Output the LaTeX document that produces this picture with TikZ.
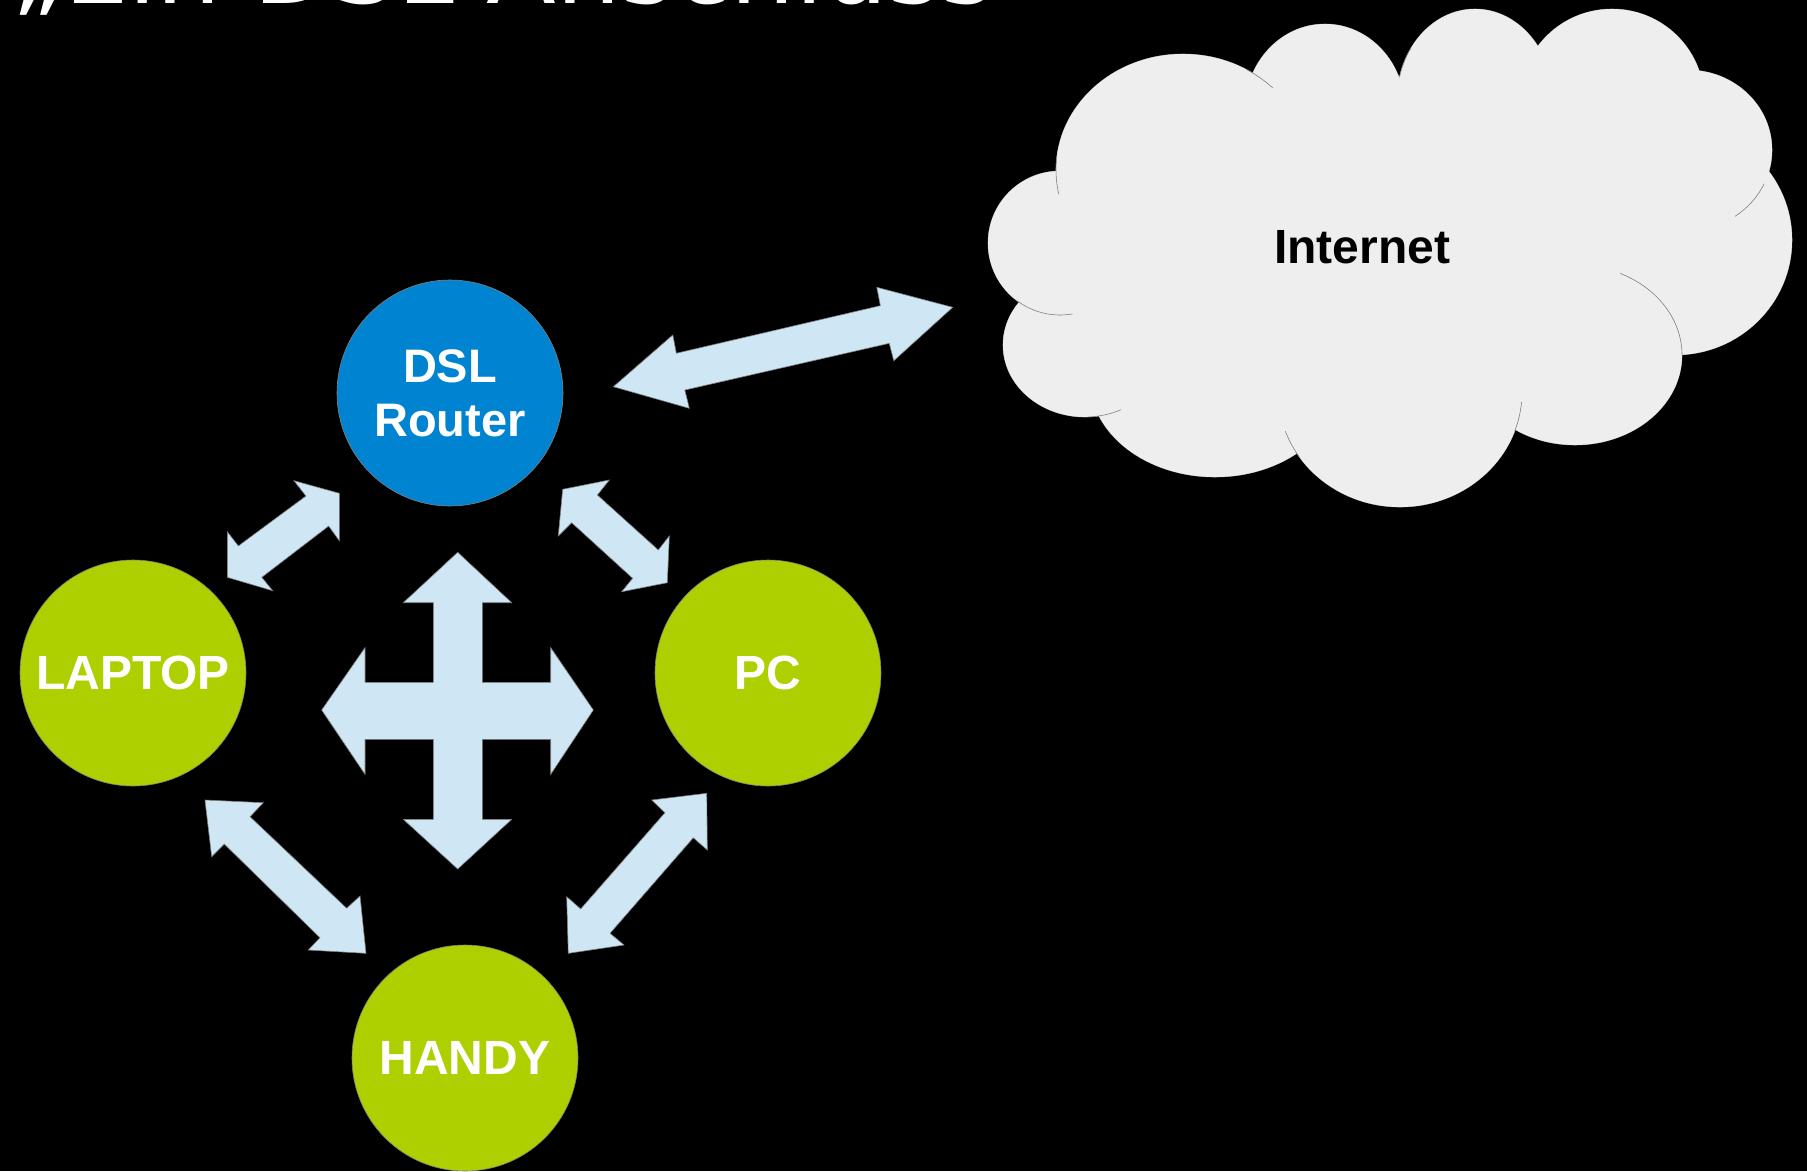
\documentclass[tikz,border=0pt]{standalone}
\usepackage{fontspec}
\setmainfont{Liberation Sans}
\newfontfamily\titlefont{DejaVu Sans}
\definecolor{dslblue}{HTML}{0084D1}
\definecolor{devgreen}{HTML}{AECF00}
\definecolor{arrowfill}{HTML}{CFE7F5}
\definecolor{cloudfill}{HTML}{EEEEEE}
\definecolor{edgegray}{HTML}{808080}
\begin{document}
\begin{tikzpicture}[x=1pt,y=-1pt,
  device/.style={circle, minimum size=226pt, inner sep=0pt, draw=edgegray, line width=0.6pt,
    text=white, font=\bfseries\fontsize{48}{54}\selectfont, align=center},
  blockarrow/.style={fill=arrowfill, draw=edgegray, line width=0.6pt, line join=miter},
  lobeline/.style={draw=edgegray, line width=0.6pt},
]
\fill[black] (0,0) rectangle (1807,1171);
\useasboundingbox (0,0) rectangle (1807,1171);
\clip (0,0) rectangle (1807,1171);

% title (clipped at the top, as in the reference)
\node[anchor=base west, inner sep=0pt, text=white, font=\titlefont\fontsize{102}{102}\selectfont] (title) at (11,3) {„Ein DSL-Anschluss};

% cloud
\foreach \cx/\cy/\rx/\ry in {1060/243/72/72, 1085/345/82/72, 1215/380/125/97, 1400/392/122/115,
  1575/355/107/90, 1675/240/117/115, 1688/150/84/80, 1612/100/92/91, 1475/100/78/91,
  1325/110/80/86, 1183/170/127/116}
  \draw[fill=cloudfill, lobeline] (\cx,\cy) ellipse [x radius=\rx, y radius=\ry];
\foreach \cx/\cy/\rx/\ry in {1060/243/72/72, 1085/345/82/72, 1215/380/125/97, 1400/392/122/115,
  1575/355/107/90, 1675/240/117/115, 1688/150/84/80, 1612/100/92/91, 1475/100/78/91,
  1325/110/80/86, 1183/170/127/116, 1390/260/300/175}
  \fill[cloudfill] (\cx,\cy) ellipse [x radius=\rx, y radius=\ry];
% interior arc fragments
\foreach \cx/\cy/\rx/\ry/\ta/\tb in {1575/355/107/90/-65/0, 1060/243/72/72/127/80,
  1183/170/127/116/187/168, 1183/170/127/116/-60/-45, 1688/150/84/80/56/25,
  1400/392/122/115/5/20, 1400/392/122/115/160/145, 1085/345/82/72/88/64,
  1475/100/78/91/215/195}
  \draw[lobeline] ({\cx+\rx*cos(\ta)},{\cy+\ry*sin(\ta)}) arc[start angle=\ta, end angle=\tb, x radius=\rx, y radius=\ry];
\node[font=\bfseries\fontsize{48}{54}\selectfont, text=black] (inet) at (1362,247) {Internet};

% devices
\node[device, fill=dslblue, font=\bfseries\fontsize{47}{54}\selectfont] (dsl) at (450,393) {DSL\\Router};
\node[device, fill=devgreen] (laptop) at (133,673) {LAPTOP};
\node[device, fill=devgreen] (pc) at (768,673) {PC};
\node[device, fill=devgreen] (handy) at (465,1058) {HANDY};

% block arrows
\draw[blockarrow] (613.4,386.7) -- (672.8,335) -- (676.3,353.3) -- (880.4,305.7) -- (876.8,287.3)
  -- (952.7,307.3) -- (893.8,360.7) -- (889.3,343.3) -- (684.8,390) -- (689.3,408.3) -- cycle;
\draw[blockarrow] (294.0,480.7) -- (339.3,493.3) -- (339.3,540.7) -- (328.7,526.0) -- (261.7,577.3)
  -- (272.7,590.7) -- (227.3,577.3) -- (227.3,531.7) -- (238.3,546.0) -- (306.0,496.0) -- cycle;
\draw[blockarrow] (562.7,489.3) -- (609.3,480) -- (597.3,495) -- (658.3,550) -- (669.3,536)
  -- (667.3,582.7) -- (621.7,591.7) -- (632.7,578.3) -- (571.7,522.7) -- (558.3,536) -- cycle;
\draw[blockarrow] (205,800) -- (263.3,802.7) -- (250,816.7) -- (346.7,908.3) -- (360,896)
  -- (366,953.3) -- (308.3,950) -- (320,937.7) -- (224.3,844) -- (211.7,856.7) -- cycle;
\draw[blockarrow] (706.7,793.3) -- (707.3,850) -- (693.3,837.7) -- (610,933.3) -- (624,945)
  -- (568.3,953.3) -- (566.7,896.7) -- (580.7,909) -- (665,812.7) -- (651.7,800) -- cycle;
% four-way cross
\draw[blockarrow] (457.7,552.3) -- (511.7,602.7) -- (482.3,602.7) -- (482.3,682.3) -- (550.7,682.3)
  -- (550.7,647.7) -- (593.3,710) -- (550.7,774.3) -- (550.7,739.3) -- (482.3,739.3) -- (482.3,819.3)
  -- (511.7,819.3) -- (457.7,869) -- (403.3,819.3) -- (433.3,819.3) -- (433.3,739.3) -- (365,739.3)
  -- (365,774.3) -- (321.7,710) -- (365,647.7) -- (365,682.3) -- (433.3,682.3) -- (433.3,602.7)
  -- (403.3,602.7) -- cycle;
\end{tikzpicture}
\end{document}
